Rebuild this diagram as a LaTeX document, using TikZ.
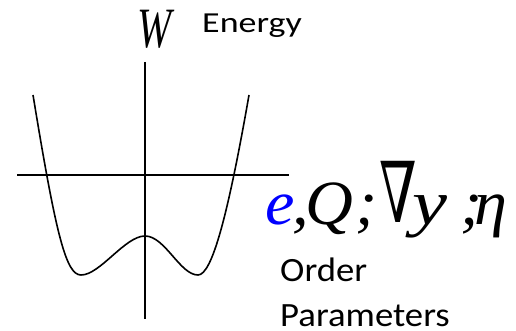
\documentclass[tikz,border=0pt]{standalone}
\usepackage{fontspec}
\setmainfont{Liberation Serif}
\newfontfamily\carl{Carlito}
\newfontfamily\dvs{DejaVu Serif}
\begin{document}
\begin{tikzpicture}[x=1pt,y=-1pt,
  axis/.style={line width=1.5pt},
  curve/.style={line width=1.6pt},
  lbl/.style={font=\carl\fontsize{34}{34}\selectfont, inner sep=0pt, anchor=base west},
  mth/.style={font=\fontsize{63}{63}\selectfont\itshape, inner sep=0pt, anchor=base west}]
\useasboundingbox (0,0) rectangle (516,331);
\coordinate (vtop) at (145,62);
\coordinate (vbot) at (145,319);
\coordinate (hl) at (17,175);
\coordinate (hr) at (289,175);
\draw[axis] (vtop) -- (vbot);
\draw[axis] (hl) -- (hr);
\draw[curve] (33,95) .. controls (56,235) and (66,275) .. (81,275)
  .. controls (100,275) and (125,236) .. (145,236)
  .. controls (165,236) and (180,275) .. (198,275)
  .. controls (212,275) and (228,215) .. (249,95);
\node[mth, font=\fontsize{57}{57}\selectfont\itshape] (W) at (137,48) {\scalebox{0.72}[1]{W}};
\node[lbl, font=\carl\fontsize{29}{29}\selectfont] (energy) at (202,33) {\scalebox{1.24}[1]{Energy}};
\node[mth, text=blue] (pe) at (265,224) {\scalebox{1.05}[1]{e}};
\node[mth] (pc1) at (292,224) {\scalebox{1.05}[1]{,}};
\node[mth] (pQ) at (305,224) {\scalebox{1.05}[1]{Q}};
\node[mth] (ps1) at (355,224) {\scalebox{1.05}[1]{;}};
\node[mth, font=\dvs\fontsize{84}{84}\selectfont] (pn) at (379,222) {\scalebox{0.64}[1]{∇}};
\node[mth] (py) at (412,224) {\scalebox{1.25}[1]{y}};
\node[mth] (ps2) at (460,224) {\scalebox{1.05}[1]{;}};
\node[mth] (peta) at (474,224) {\scalebox{1.05}[1]{η}};
\node[lbl] (order) at (280,281) {\scalebox{1.08}[1]{Order}};
\node[lbl] (parameters) at (280,326) {\scalebox{1.08}[1]{Parameters}};
\end{tikzpicture}
\end{document}
